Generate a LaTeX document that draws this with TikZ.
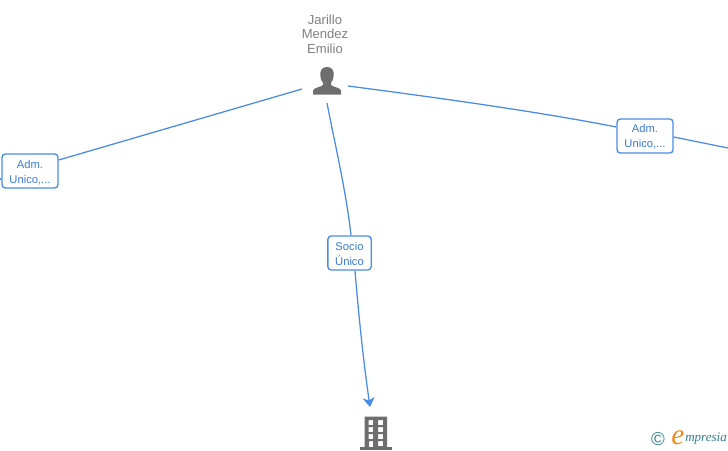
\documentclass[tikz,border=0pt]{standalone}
\usepackage{fontspec}
\setmainfont{Liberation Sans}
\newfontfamily\logofont{Liberation Serif}
\usetikzlibrary{arrows.meta}
\definecolor{linkblue}{HTML}{4A8CE3}
\definecolor{lblblue}{HTML}{3A7BD5}
\definecolor{icongray}{HTML}{6E6E6E}
\definecolor{namegray}{HTML}{808080}
\definecolor{logoteal}{HTML}{2F7F96}
\definecolor{logoorange}{HTML}{F08A1D}
\newcommand{\lowered}[2]{\raisebox{-#1pt}[\height][\depth]{#2}}
\tikzset{
  link/.style={draw=linkblue,line width=0.95pt},
  lbl/.style={draw=linkblue,line width=1pt,fill=white,rounded corners=2.5pt,inner sep=0pt,
    text=lblblue,font=\fontsize{8.4pt}{11.2pt}\selectfont,align=center,anchor=center},
  anchorpt/.style={inner sep=0pt,minimum size=0pt},
}
\begin{document}
\begin{tikzpicture}[x=0.75pt,y=-0.75pt]
\useasboundingbox (0,0) rectangle (728,450);
% person icon
\node[anchorpt] (person) at (327,81) {};
\fill[icongray] (327,67) .. controls (322,67) and (320,70.5) .. (320.3,75)
  .. controls (320.5,79) and (321.8,81.5) .. (323,83) -- (323,85)
  .. controls (320,87.5) and (314,87.5) .. (313.2,90.5) -- (313.2,94.7) -- (341,94.7) -- (341,90.5)
  .. controls (340.2,87.5) and (334,87.5) .. (331,85) -- (331,83)
  .. controls (332.2,81.5) and (333.5,79) .. (333.7,75)
  .. controls (334,70.5) and (332,67) .. (327,67) -- cycle;
\node[text=namegray,font=\fontsize{9.8pt}{11pt}\selectfont,align=center] (name) at (325,34) {Jarillo\\Mendez\\Emilio};
% building icon
\node[anchorpt] (building) at (375,433) {};
\fill[icongray,even odd rule] (364.5,416.5) rectangle (387,448)
  (368.5,420) rectangle (373,425)
  (378,420) rectangle (383,425)
  (368.5,427) rectangle (373,432)
  (378,427) rectangle (383,432)
  (368.5,434) rectangle (373,439)
  (378,434) rectangle (383,439)
  (369,441) rectangle (373,449)
  (378,441) rectangle (383,446);
\fill[icongray] (360,447) rectangle (392,450);
% label boxes
\node[lbl,minimum width=42pt,minimum height=25.5pt] (lleft) at (30,171) {\lowered{1.4}{Adm.}\\\lowered{1.4}{Unico,...}};
\node[lbl,minimum width=42pt,minimum height=25.5pt] (lright) at (645,136) {\lowered{0.7}{Adm.}\\\lowered{0.7}{Unico,...}};
\node[lbl,minimum width=32.5pt,minimum height=25.5pt] (lmid) at (349.5,253) {\lowered{0.7}{Socio}\\\lowered{0.7}{Único}};
% free ends
\coordinate (pw) at (302,89);
\coordinate (pe) at (348,86);
\coordinate (ps) at (327,103);
\coordinate (bn) at (370,407);
\coordinate (offl) at (0,179);
\coordinate (offr) at (728,148);
% connectors
\draw[link] (pw) -- (lleft.east |- 0,160);
\draw[link] (lleft.west |- 0,179) -- (offl);
\draw[link] (pe) .. controls (440,98) and (540,112) .. (lright.west |- 0,127);
\draw[link] (lright.east |- 0,137) -- (offr);
\draw[link] (ps) .. controls (334,140) and (346,190) .. (lmid.north -| 351,0);
\draw[link,-{Stealth[length=7pt,width=9pt,inset=2pt]}] (lmid.south -| 355,0) .. controls (359,320) and (364,365) .. (bn);
% logo
\node[text=logoteal,font=\fontsize{14pt}{14pt}\selectfont,inner sep=0pt] (copy) at (658,439) {©};
\node[text=logoorange,font=\logofont\itshape\fontsize{22pt}{22pt}\selectfont,inner sep=0pt] (loge) at (678,438) {e};
\node[text=logoteal,font=\logofont\itshape\fontsize{9.8pt}{9.8pt}\selectfont,inner sep=0pt,anchor=west] (logt) at (685,439) {mpresia};
\end{tikzpicture}
\end{document}
